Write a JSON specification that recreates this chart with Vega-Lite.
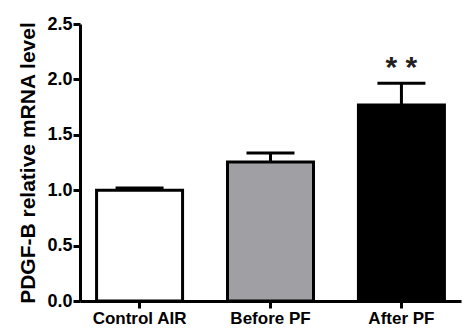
{
  "$schema": "https://vega.github.io/schema/vega-lite/v6.json",
  "autosize": "none",
  "padding": {"left": 80, "top": 24, "right": 2, "bottom": 32},
  "width": 381,
  "height": 277,
  "background": "white",
  "config": {
    "view": {"stroke": null},
    "font": "Liberation Sans",
    "axis": {
      "domainColor": "black", "domainWidth": 3,
      "tickColor": "black", "tickWidth": 3, "tickSize": 7,
      "labelFont": "Liberation Sans", "labelFontWeight": "bold", "labelColor": "black",
      "titleFont": "Liberation Sans", "titleFontWeight": "bold", "titleColor": "black",
      "grid": false
    }
  },
  "data": {
    "values": [
      {"group": "Control AIR", "value": 1.0, "upper": 1.02, "star": ""},
      {"group": "Before PF", "value": 1.255, "upper": 1.335, "star": ""},
      {"group": "After PF", "value": 1.77, "upper": 1.965, "star": "* *", "starY": 2.1}
    ]
  },
  "encoding": {
    "x": {
      "field": "group", "type": "nominal", "sort": null,
      "scale": {"paddingInner": 0.33, "paddingOuter": 0.12},
      "axis": {"title": null, "labelAngle": 0, "labelFontSize": 17, "labelPadding": 2}
    }
  },
  "layer": [
    {
      "mark": {"type": "rule", "strokeWidth": 3, "color": "black"},
      "encoding": {
        "y": {"field": "value", "type": "quantitative"},
        "y2": {"field": "upper"}
      }
    },
    {
      "mark": {"type": "tick", "size": 48, "thickness": 3, "color": "black", "opacity": 1},
      "encoding": {
        "y": {"field": "upper", "type": "quantitative"}
      }
    },
    {
      "mark": {"type": "bar", "stroke": "black", "strokeWidth": 3, "width": 86},
      "encoding": {
        "y": {
          "field": "value", "type": "quantitative",
          "scale": {"domain": [0, 2.5], "nice": false},
          "axis": {
            "title": "PDGF-B relative mRNA level", "titleFontSize": 21, "titlePadding": 8,
            "values": [0, 0.5, 1, 1.5, 2, 2.5], "format": ".1f",
            "labelFontSize": 18, "labelPadding": 1
          }
        },
        "fill": {
          "field": "group", "type": "nominal", "sort": null,
          "scale": {"domain": ["Control AIR", "Before PF", "After PF"], "range": ["#ffffff", "#a09fa4", "#000000"]},
          "legend": null
        }
      }
    },
    {
      "mark": {"type": "text", "fontSize": 30, "fontWeight": "bold", "color": "#222222", "baseline": "middle", "font": "Liberation Sans"},
      "encoding": {
        "y": {"field": "starY", "type": "quantitative"},
        "text": {"field": "star"}
      }
    }
  ]
}
